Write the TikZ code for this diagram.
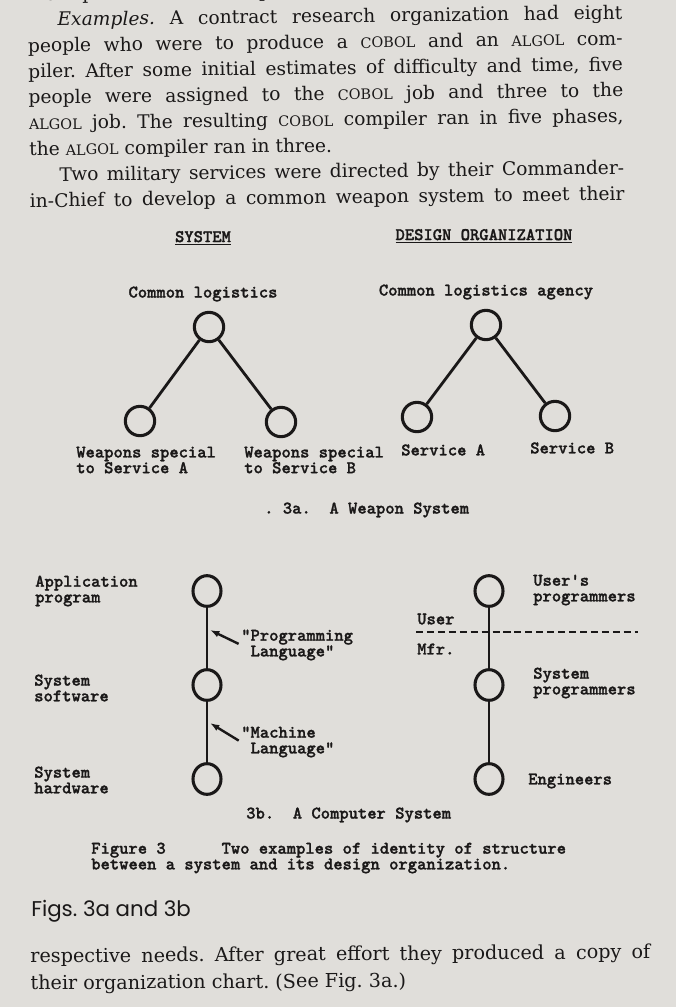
\documentclass[tikz,border=0pt]{standalone}
\usepackage{fontspec}
\setmainfont{DejaVu Serif}
\newfontfamily\typewriter{lmmonolt10-bold.otf}[FakeBold=1.3]
\newfontfamily\headfont{Poppins}
\usetikzlibrary{shapes.geometric,arrows.meta}
\definecolor{paper}{RGB}{224,222,218}
\definecolor{ink}{RGB}{26,24,24}
\frenchspacing
\newcommand{\smc}[1]{{\fontsize{10.8pt}{10.8pt}\selectfont #1}}
\newcommand{\tw}{\typewriter\fontsize{13.3pt}{11.8pt}\selectfont}
\tikzstyle{hub} = [circle, draw=ink, line width=2.3pt, minimum size=22pt, inner sep=0pt]
\tikzstyle{tier} = [ellipse, draw=ink, line width=2.3pt, minimum width=21pt, minimum height=23pt, inner sep=0pt]
\tikzstyle{tag} = [align=left, inner sep=0pt, text=ink, font=\tw]
\tikzstyle{link} = [draw=ink, line width=2.1pt]
\tikzstyle{pointer} = [draw=ink, line width=1.8pt, -{Latex[length=7pt,width=5pt]}, shorten <=2pt]
\tikzstyle{cut} = [draw=ink, line width=1.6pt, dash pattern=on 5.3pt off 2.9pt]
\tikzstyle{prose} = [anchor=north west, inner sep=0pt, text=ink, align=justify]

\begin{document}
\begin{tikzpicture}[x=0.75pt, y=-0.75pt, node distance=70.5pt]
    \useasboundingbox (0,0) rectangle (676,1007);
    \fill [paper] (0,0) rectangle (676,1007);
    % running text above the figure
    \node (text-top) [prose, text width=446pt, rotate=0.7, font=\fontsize{14pt}{19.4pt}\selectfont] at (27,-14) {\parindent=0pt\hyphenpenalty=10000
        more pronounced is the phenomenon.\par
        \hspace*{1.6em}\emph{Examples.} A contract research organization had eight\linebreak
        people who were to produce a \smc{COBOL} and an \smc{ALGOL} com-\linebreak
        piler. After some initial estimates of difficulty and time, five\linebreak
        people were assigned to the \smc{COBOL} job and three to the\linebreak
        \smc{ALGOL} job. The resulting \smc{COBOL} compiler ran in five phases,\linebreak
        the \smc{ALGOL} compiler ran in three.\par
        \hspace*{1.6em}Two military services were directed by their Commander-\linebreak
        in-Chief to develop a common weapon system to meet their\parfillskip=0pt\par};
    % 3a
    \node (sys-title) [tag] at (203,238) {\underline{SYSTEM}};
    \node (org-title) [tag] at (484,236) {\underline{DESIGN ORGANIZATION}};
    \node (sys-top-text) [tag] at (203,294) {Common logistics};
    \node (org-top-text) [tag] at (486,292) {Common logistics agency};
    \node (sys-top) [hub] at (209,327) {};
    \node (sys-a) [hub] at (140,421) {};
    \node (sys-b) [hub] at (281,422) {};
    \node (org-top) [hub] at (486,325) {};
    \node (org-a) [hub] at (417,417) {};
    \node (org-b) [hub] at (555,416) {};
    \node (sys-a-text) [tag, anchor=west] at (76,460) {Weapons special\\to Service A};
    \node (sys-b-text) [tag, anchor=west] at (244,460) {Weapons special\\to Service B};
    \node (org-a-text) [tag, anchor=west] at (401,450) {Service A};
    \node (org-b-text) [tag, anchor=west] at (530,448) {Service B};
    \node (cap-a) [tag, anchor=west] at (264,510) {.~3a.~~A Weapon System};
    \draw [link] (sys-top) -- (sys-a);
    \draw [link] (sys-top) -- (sys-b);
    \draw [link] (org-top) -- (org-a);
    \draw [link] (org-top) -- (org-b);
    % 3b
    \node (app) [tier] at (207,591) {};
    \node (soft) [tier, below of = app] {};
    \node (hard) [tier, below of = soft] {};
    \node (users) [tier] at (489,591) {};
    \node (sysprog) [tier, below of = users] {};
    \node (eng) [tier, below of = sysprog] {};
    \node (app-text) [tag, anchor=west] at (35,591) {Application\\program};
    \node (soft-text) [tag, anchor=west] at (34,688) {System\\software};
    \node (hard-text) [tag, anchor=west] at (34,780) {System\\hardware};
    \node (prog) [tag, anchor=west] at (241,645) {"Programming\\\phantom{"}Language"};
    \node (mach) [tag, anchor=west] at (241,742) {"Machine\\\phantom{"}Language"};
    \coordinate (prog-tip) at (210,630);
    \coordinate (mach-tip) at (210,723);
    \node (users-text) [tag, anchor=west] at (533,590) {User's\\programmers};
    \node (user) [tag, anchor=west] at (417,619) {User};
    \node (mfr) [tag, anchor=west] at (417,649) {Mfr.};
    \coordinate (cut-l) at (416,632);
    \coordinate (cut-r) at (638,632);
    \node (sysprog-text) [tag, anchor=west] at (533,683) {System\\programmers};
    \node (eng-text) [tag, anchor=west] at (528,781) {Engineers};
    \node (cap-b) [tag, anchor=west] at (246,815) {3b.~~A Computer System};
    \draw [link] (app) -- (soft);
    \draw [link] (soft) -- (hard);
    \draw [link] (users) -- (sysprog);
    \draw [link] (sysprog) -- (eng);
    \draw [pointer] (prog.west) -- (prog-tip);
    \draw [pointer] (mach.west) -- (mach-tip);
    \draw [cut] (cut-l) -- (cut-r);
    % captions
    \node (fig-cap) [tag, anchor=west] at (91,858) {Figure 3~~~~~~Two examples of identity of structure\\between a system and its design organization.};
    \node (figs) [text=ink, inner sep=0pt, anchor=west, font=\headfont\fontsize{16pt}{16pt}\selectfont] at (31,911) {Figs. 3a and 3b};
    % running text below the figure
    \node (text-bottom) [prose, text width=465pt, rotate=0.4, font=\fontsize{14.4pt}{20.2pt}\selectfont] at (30,948) {\parindent=0pt\hyphenpenalty=10000
        respective needs. After great effort they produced a copy of\linebreak
        their organization chart. (See Fig. 3a.)};
\end{tikzpicture}
\end{document}
